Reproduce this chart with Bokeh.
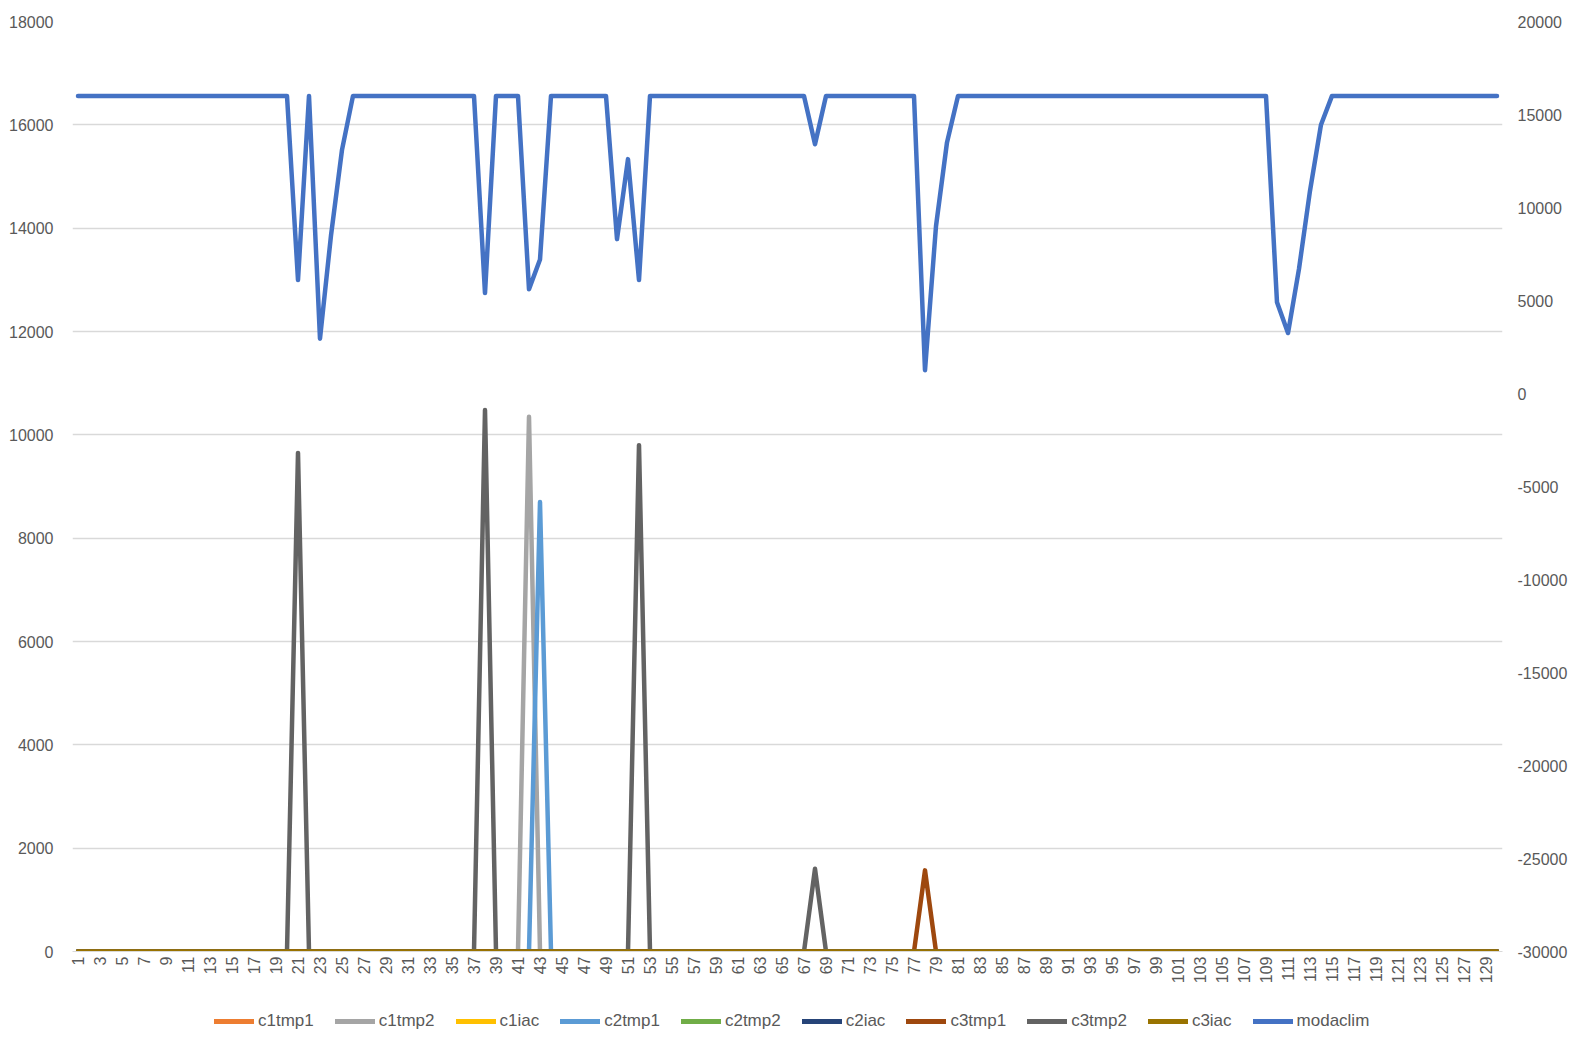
import math
from bokeh.plotting import figure
from bokeh.layouts import column
from bokeh.models import (Range1d, LinearAxis, FixedTicker, Legend, LegendItem,
                          CustomJSTickFormatter)
from bokeh.embed import file_html
from bokeh.resources import INLINE

# ---------------- data ----------------
categories = list(range(1, 131))

c1tmp1 = [0] * 130
c1iac = [0] * 130
c2tmp2 = [0] * 130
c2iac = [0] * 130
c3iac = [0] * 130

c1tmp2 = [
    0, 0, 0, 0, 0, 0, 0, 0, 0, 0,
    0, 0, 0, 0, 0, 0, 0, 0, 0, 0,
    0, 0, 0, 0, 0, 0, 0, 0, 0, 0,
    0, 0, 0, 0, 0, 0, 0, 0, 0, 0,
    0, 10350, 0, 0, 0, 0, 0, 0, 0, 0,
    0, 0, 0, 0, 0, 0, 0, 0, 0, 0,
    0, 0, 0, 0, 0, 0, 0, 0, 0, 0,
    0, 0, 0, 0, 0, 0, 0, 0, 0, 0,
    0, 0, 0, 0, 0, 0, 0, 0, 0, 0,
    0, 0, 0, 0, 0, 0, 0, 0, 0, 0,
    0, 0, 0, 0, 0, 0, 0, 0, 0, 0,
    0, 0, 0, 0, 0, 0, 0, 0, 0, 0,
    0, 0, 0, 0, 0, 0, 0, 0, 0, 0,
]

c2tmp1 = [
    0, 0, 0, 0, 0, 0, 0, 0, 0, 0,
    0, 0, 0, 0, 0, 0, 0, 0, 0, 0,
    0, 0, 0, 0, 0, 0, 0, 0, 0, 0,
    0, 0, 0, 0, 0, 0, 0, 0, 0, 0,
    0, 0, 8700, 0, 0, 0, 0, 0, 0, 0,
    0, 0, 0, 0, 0, 0, 0, 0, 0, 0,
    0, 0, 0, 0, 0, 0, 0, 0, 0, 0,
    0, 0, 0, 0, 0, 0, 0, 0, 0, 0,
    0, 0, 0, 0, 0, 0, 0, 0, 0, 0,
    0, 0, 0, 0, 0, 0, 0, 0, 0, 0,
    0, 0, 0, 0, 0, 0, 0, 0, 0, 0,
    0, 0, 0, 0, 0, 0, 0, 0, 0, 0,
    0, 0, 0, 0, 0, 0, 0, 0, 0, 0,
]

c3tmp1 = [
    0, 0, 0, 0, 0, 0, 0, 0, 0, 0,
    0, 0, 0, 0, 0, 0, 0, 0, 0, 0,
    0, 0, 0, 0, 0, 0, 0, 0, 0, 0,
    0, 0, 0, 0, 0, 0, 0, 0, 0, 0,
    0, 0, 0, 0, 0, 0, 0, 0, 0, 0,
    0, 0, 0, 0, 0, 0, 0, 0, 0, 0,
    0, 0, 0, 0, 0, 0, 0, 0, 0, 0,
    0, 0, 0, 0, 0, 0, 0, 1570, 0, 0,
    0, 0, 0, 0, 0, 0, 0, 0, 0, 0,
    0, 0, 0, 0, 0, 0, 0, 0, 0, 0,
    0, 0, 0, 0, 0, 0, 0, 0, 0, 0,
    0, 0, 0, 0, 0, 0, 0, 0, 0, 0,
    0, 0, 0, 0, 0, 0, 0, 0, 0, 0,
]

c3tmp2 = [
    0, 0, 0, 0, 0, 0, 0, 0, 0, 0,
    0, 0, 0, 0, 0, 0, 0, 0, 0, 0,
    9650, 0, 0, 0, 0, 0, 0, 0, 0, 0,
    0, 0, 0, 0, 0, 0, 0, 10480, 0, 0,
    0, 0, 0, 0, 0, 0, 0, 0, 0, 0,
    0, 9800, 0, 0, 0, 0, 0, 0, 0, 0,
    0, 0, 0, 0, 0, 0, 0, 1600, 0, 0,
    0, 0, 0, 0, 0, 0, 0, 0, 0, 0,
    0, 0, 0, 0, 0, 0, 0, 0, 0, 0,
    0, 0, 0, 0, 0, 0, 0, 0, 0, 0,
    0, 0, 0, 0, 0, 0, 0, 0, 0, 0,
    0, 0, 0, 0, 0, 0, 0, 0, 0, 0,
    0, 0, 0, 0, 0, 0, 0, 0, 0, 0,
]

modaclim = [
    16000, 16000, 16000, 16000, 16000, 16000, 16000, 16000, 16000, 16000,
    16000, 16000, 16000, 16000, 16000, 16000, 16000, 16000, 16000, 16000,
    6100, 16000, 2950, 8500, 13100, 16000, 16000, 16000, 16000, 16000,
    16000, 16000, 16000, 16000, 16000, 16000, 16000, 5400, 16000, 16000,
    16000, 5600, 7200, 16000, 16000, 16000, 16000, 16000, 16000, 8300,
    12600, 6100, 16000, 16000, 16000, 16000, 16000, 16000, 16000, 16000,
    16000, 16000, 16000, 16000, 16000, 16000, 16000, 13400, 16000, 16000,
    16000, 16000, 16000, 16000, 16000, 16000, 16000, 1250, 9000, 13500,
    16000, 16000, 16000, 16000, 16000, 16000, 16000, 16000, 16000, 16000,
    16000, 16000, 16000, 16000, 16000, 16000, 16000, 16000, 16000, 16000,
    16000, 16000, 16000, 16000, 16000, 16000, 16000, 16000, 16000, 4900,
    3250, 6700, 10900, 14450, 16000, 16000, 16000, 16000, 16000, 16000,
    16000, 16000, 16000, 16000, 16000, 16000, 16000, 16000, 16000, 16000,
]

left_ticks = [0, 2000, 4000, 6000, 8000, 10000, 12000, 14000, 16000, 18000]
right_ticks = [-30000, -25000, -20000, -15000, -10000, -5000, 0, 5000, 10000, 15000, 20000]
x_ticks = list(range(1, 131, 2))

series = [
    ("c1tmp1", c1tmp1, "#ED7D31"),
    ("c1tmp2", c1tmp2, "#A5A5A5"),
    ("c1iac", c1iac, "#FFC000"),
    ("c2tmp1", c2tmp1, "#5B9BD5"),
    ("c2tmp2", c2tmp2, "#70AD47"),
    ("c2iac", c2iac, "#264478"),
    ("c3tmp1", c3tmp1, "#9E480E"),
    ("c3tmp2", c3tmp2, "#636363"),
    ("c3iac", c3iac, "#997300"),
]
modaclim_color = "#4472C4"

# ---------------- main figure ----------------
FONT = "Liberation Sans"
TXT = "#595959"
plain = CustomJSTickFormatter(code="return tick.toFixed(0);")

p = figure(
    frame_width=1430, frame_height=930,
    x_range=Range1d(0.5, 130.5), y_range=Range1d(0, 18000),
    output_backend="svg", toolbar_location=None,
    min_border_left=72, min_border_right=74, min_border_top=21, min_border_bottom=42,
)
p.outline_line_color = None
p.border_fill_color = "white"

p.extra_y_ranges = {"right": Range1d(-30000, 20000)}

p.xaxis.ticker = FixedTicker(ticks=x_ticks)
p.xaxis.formatter = plain
p.xaxis.major_label_orientation = math.pi / 2
p.xaxis.major_tick_line_color = None
p.xaxis.major_tick_out = 0
p.xaxis.major_tick_in = 0
p.xaxis.minor_tick_line_color = None
p.xaxis.axis_line_color = "#D9D9D9"
p.xaxis.major_label_standoff = 5
p.xaxis.major_label_text_font = FONT
p.xaxis.major_label_text_font_size = "16px"
p.xaxis.major_label_text_color = TXT

p.yaxis.ticker = FixedTicker(ticks=left_ticks)
p.yaxis.formatter = plain
p.yaxis.major_tick_line_color = None
p.yaxis.major_tick_out = 0
p.yaxis.major_tick_in = 0
p.yaxis.minor_tick_line_color = None
p.yaxis.axis_line_color = None
p.yaxis.major_label_standoff = 19
p.yaxis.major_label_text_font = FONT
p.yaxis.major_label_text_font_size = "16px"
p.yaxis.major_label_text_color = TXT

raxis = LinearAxis(y_range_name="right", ticker=FixedTicker(ticks=right_ticks),
                   formatter=plain)
raxis.major_tick_line_color = None
raxis.major_tick_out = 0
raxis.major_tick_in = 0
raxis.minor_tick_line_color = None
raxis.axis_line_color = None
raxis.major_label_standoff = 15
raxis.major_label_text_font = FONT
raxis.major_label_text_font_size = "16px"
raxis.major_label_text_color = TXT
p.add_layout(raxis, "right")

p.xgrid.grid_line_color = None
p.ygrid.ticker = FixedTicker(ticks=left_ticks)
p.ygrid.grid_line_color = "#D9D9D9"
p.ygrid.grid_line_width = 1.3

for name, vals, col in series:
    p.line(categories, vals, line_color=col, line_width=4.5,
           line_join="round", line_cap="round")
p.line(categories, modaclim, line_color=modaclim_color, line_width=4.5,
       line_join="round", line_cap="round", y_range_name="right")

# ---------------- legend strip below (frame aligned with main frame) ----------------
lg = figure(
    width=1576, height=44, x_range=Range1d(0, 1), y_range=Range1d(0, 1),
    output_backend="svg", toolbar_location=None,
    x_axis_location=None, y_axis_location=None,
    min_border_left=0, min_border_right=0, min_border_top=0, min_border_bottom=0,
)
lg.outline_line_color = None
lg.grid.visible = False

items = []
for name, vals, col in series + [("modaclim", modaclim, modaclim_color)]:
    # swatch renderer kept outside the visible range; only its legend glyph shows
    r = lg.line([-2, -1], [-2, -1], line_color=col, line_width=5, line_cap="round")
    items.append(LegendItem(label=name, renderers=[r]))

legend = Legend(
    items=items, orientation="horizontal", location=(142, 6),
    glyph_width=40, glyph_height=20, label_height=20, label_standoff=4,
    spacing=21, padding=0, margin=0,
    label_text_font=FONT, label_text_font_size="17px", label_text_color=TXT,
    border_line_color=None, background_fill_alpha=0,
)
lg.add_layout(legend, "center")

layout = column(p, lg, spacing=0)
open("out.html", "w").write(file_html(layout, INLINE))
